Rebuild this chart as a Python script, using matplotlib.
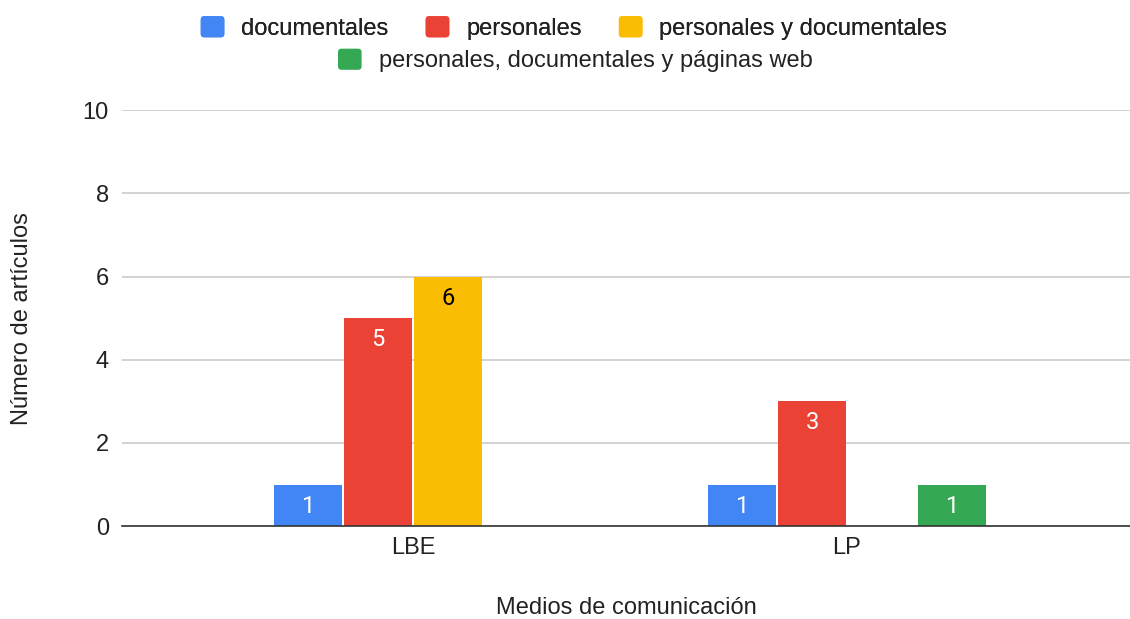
import numpy as np
import matplotlib
matplotlib.use("Agg")
import matplotlib.pyplot as plt
from matplotlib.patches import Patch, FancyBboxPatch
from matplotlib.legend_handler import HandlerPatch

# Data
medios = ["LBE", "LP"]
series = ["documentales", "personales", "personales y documentales",
          "personales, documentales y páginas web"]
documentales = [1, 1]
personales = [5, 3]
pers_doc = [6, 0]
pers_doc_web = [0, 1]
valores = [documentales, personales, pers_doc, pers_doc_web]

colores = ["#4285F4", "#EA4335", "#FBBC04", "#34A853"]
color_texto = ["white", "white", "black", "white"]

plt.rcParams['font.family'] = ['Liberation Sans', 'DejaVu Sans']
fs = 17

fig = plt.figure(figsize=(11.3, 6.19), dpi=100)
ax = fig.add_axes([0.108, 0.150, 0.892, 0.672])

x = np.arange(len(medios))
paso = 0.161
ancho = 0.156
for i, (vals, c) in enumerate(zip(valores, colores)):
    pos = x + (i - 1.5) * paso
    vals = np.array(vals)
    mask = vals > 0
    ax.bar(pos[mask], vals[mask], width=ancho, color=c, zorder=3)
    for p, v in zip(pos[mask], vals[mask]):
        ax.text(p, v - 0.52, str(v), ha='center', va='center',
                color=color_texto[i], fontsize=fs, family=['Roboto', 'DejaVu Sans'],
                zorder=4)

ax.set_xlim(-0.670, 1.652)
ax.set_ylim(0, 10)
ax.set_yticks([0, 2, 4, 6, 8, 10])
ax.set_xticks(x)
ax.set_xticklabels(medios)
ax.tick_params(axis='both', length=0, labelsize=fs, colors='#222222')
ax.tick_params(axis='y', pad=9.5)
ax.tick_params(axis='x', pad=8)
ax.grid(axis='y', color='#cccccc', linewidth=1.2, zorder=0)
for s in ['top', 'right', 'left']:
    ax.spines[s].set_visible(False)
ax.spines['bottom'].set_color('#333333')
ax.spines['bottom'].set_linewidth(1.2)
ax.spines['bottom'].set_zorder(5)

ax.set_xlabel("Medios de comunicación", fontsize=fs, color='#222222')
ax.xaxis.set_label_coords(0.5, -0.171)
ax.set_ylabel("Número de artículos", fontsize=fs, color='#222222')
ax.yaxis.set_label_coords(-0.088, 0.5)


# rounded squares for the legend
def cuadro(legend, orig_handle, xdescent, ydescent, width, height, fontsize):
    return FancyBboxPatch((-xdescent, -ydescent), width, height,
                          boxstyle="round,pad=0,rounding_size=2.5")


hm = {Patch: HandlerPatch(patch_func=cuadro)}
h1 = [Patch(facecolor=c, edgecolor='none') for c in colores[:3]]
h2 = [Patch(facecolor=colores[3], edgecolor='none')]
leg_kw = dict(loc='center', frameon=False, fontsize=fs, handlelength=1.0,
              handleheight=1.0, handletextpad=0.72, labelcolor='#222222',
              handler_map=hm)
leg1 = fig.legend(h1, series[:3], bbox_to_anchor=(0.508, 1 - 28 / 619),
                  ncol=3, columnspacing=1.57, **leg_kw)
leg2 = fig.legend(h2, series[3:], bbox_to_anchor=(0.509, 1 - 60.5 / 619),
                  ncol=1, **leg_kw)
fig.add_artist(leg1)

fig.savefig("out.png", dpi=100)
